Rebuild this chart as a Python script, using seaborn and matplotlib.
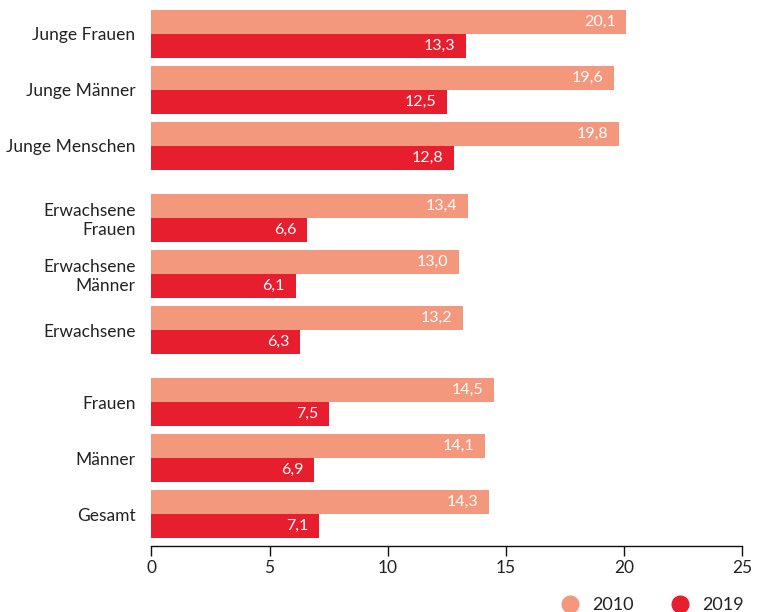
import pandas as pd
import matplotlib.pyplot as plt
import seaborn as sns
from matplotlib.lines import Line2D

# Daten
categories = ["Junge Frauen", "Junge Männer", "Junge Menschen",
              "Erwachsene\nFrauen", "Erwachsene\nMänner", "Erwachsene",
              "Frauen", "Männer", "Gesamt"]
group_idx = [0, 0, 0, 1, 1, 1, 2, 2, 2]
years = ["2010", "2019"]
values_2010 = [20.1, 19.6, 19.8, 13.4, 13.0, 13.2, 14.5, 14.1, 14.3]
values_2019 = [13.3, 12.5, 12.8, 6.6, 6.1, 6.3, 7.5, 6.9, 7.1]
x_ticks = [0, 5, 10, 15, 20, 25]

colors = {"2010": "#F4987D", "2019": "#E61E2E"}

# Positionen mit Extra-Abstand zwischen den Gruppen
group_gap = 16 / 56
pos = [i + g * group_gap for i, g in enumerate(group_idx)]

df = pd.DataFrame({
    "pos": pos * 2,
    "wert": values_2010 + values_2019,
    "jahr": ["2010"] * len(pos) + ["2019"] * len(pos),
})

sns.set_style("white")
plt.rcParams["font.family"] = ["Lato", "DejaVu Sans"]

fig = plt.figure(figsize=(7.6, 6.12), dpi=100)
ax = fig.add_axes([0.1993, 0.1083, 0.777, 0.8754])

sns.barplot(data=df, x="wert", y="pos", hue="jahr", hue_order=years,
            orient="y", native_scale=True, width=48 / 56,
            palette=colors, saturation=1, dodge=True, legend=False,
            linewidth=0, edgecolor="none", ax=ax)

# Werte in die Balken schreiben
for cont in ax.containers:
    for p in cont:
        w = p.get_width()
        yc = p.get_y() + p.get_height() / 2
        ax.text(w - 0.45, yc, f"{w:.1f}".replace(".", ","),
                ha="right", va="center", color="white", fontsize=11.5)

ax.set_xlim(0, 25)
ax.set_ylim(pos[-1] + 0.566, pos[0] - 24 / 56)
ax.set_xticks(x_ticks)
ax.set_xticklabels([str(t) for t in x_ticks])
ax.set_yticks(pos)
ax.set_yticklabels(categories, ha="right", linespacing=1.2)
ax.set_xlabel("")
ax.set_ylabel("")

for s in ["top", "right", "left"]:
    ax.spines[s].set_visible(False)
ax.spines["bottom"].set_color("#111111")
ax.spines["bottom"].set_linewidth(1)
ax.tick_params(axis="x", bottom=True, length=7, width=1, color="#111111",
               labelsize=12.5, labelcolor="#222222", pad=3)
ax.tick_params(axis="y", left=False, labelsize=12.5, labelcolor="#222222", pad=8)

handles = [Line2D([0], [0], marker="o", linestyle="", markersize=12,
                  markerfacecolor=colors[y], markeredgecolor=colors[y]) for y in years]
fig.legend(handles, years, loc="lower right", bbox_to_anchor=(1.0, -0.028),
           ncol=2, frameon=False, fontsize=13, handletextpad=0.2,
           columnspacing=1.6, labelcolor="#222222")

fig.savefig("out.png", dpi=100)
